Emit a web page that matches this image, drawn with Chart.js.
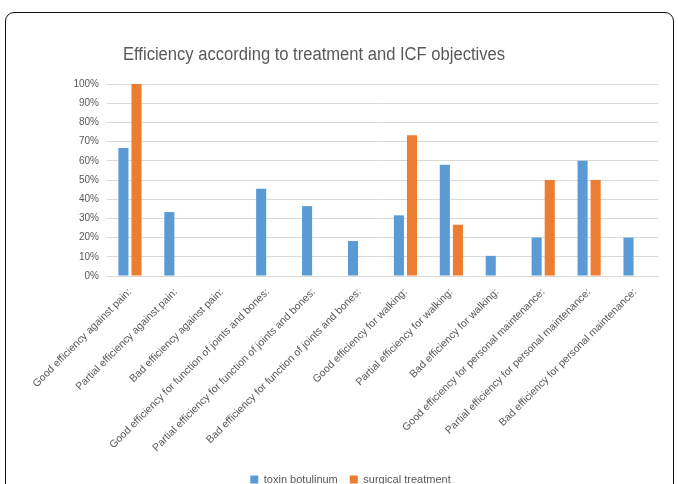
<!DOCTYPE html>
<html>
<head>
<meta charset="utf-8">
<script src="https://cdn.jsdelivr.net/npm/chart.js@4"></script>
<style>
  body { margin: 0; background: #fff; }
  #wrap { position: relative; width: 678px; height: 484px; overflow: hidden; }
  #frame {
    position: absolute; left: 5px; top: 12px; width: 669px; height: 490px;
    border: 1.5px solid #111; border-radius: 9px; box-sizing: border-box;
  }
  #chart { position: absolute; left: 0; top: 0; }
</style>
</head>
<body>
<div id="wrap">
  <div id="frame"></div>
  <canvas id="chart" width="678" height="495"></canvas>
</div>
<script>
// Categories (ICF objectives)
const categories = [
  'Good efficiency against pain:',
  'Partial efficiency against pain:',
  'Bad efficiency against pain:',
  'Good efficiency for function of joints and bones:',
  'Partial efficiency for function of joints and bones:',
  'Bad efficiency for function of joints and bones:',
  'Good efficiency for walking:',
  'Partial efficiency for walking:',
  'Bad efficiency for walking:',
  'Good efficiency for personal maintenance:',
  'Partial efficiency for personal maintenance:',
  'Bad efficiency for personal maintenance:'
];

// Series values (percent)
const toxinValues = [66.7, 33.3, 0, 45.5, 36.4, 18.2, 31.6, 57.9, 10.5, 20, 60, 20];
const surgicalValues = [100, 0, 0, 0, 0, 0, 73.3, 26.7, 0, 50, 50, 0];

// Y tick values
const yTicks = [0, 10, 20, 30, 40, 50, 60, 70, 80, 90, 100];

const chartTitle = 'Efficiency according to treatment and ICF objectives';
const textGray = '#595959';

// Title drawn at a fixed spot, squeezed to the original's width
const titlePlugin = {
  id: 'fixedTitle',
  afterDraw(chart) {
    const ctx = chart.ctx;
    ctx.save();
    ctx.font = '18px "Liberation Sans", sans-serif';
    ctx.fillStyle = textGray;
    ctx.textBaseline = 'middle';
    const w = ctx.measureText(chartTitle).width;
    const sx = 382 / w;
    ctx.translate(123, 55);
    ctx.scale(sx, 1);
    ctx.fillText(chartTitle, 0, 0);
    ctx.restore();
  }
};

document.addEventListener('DOMContentLoaded', function () {
  const ctx = document.getElementById('chart').getContext('2d');
  new Chart(ctx, {
    type: 'bar',
    data: {
      labels: categories,
      datasets: [{
        label: 'toxin botulinum',
        data: toxinValues,
        backgroundColor: '#5B9BD5'
      }, {
        label: 'surgical treatment',
        data: surgicalValues,
        backgroundColor: '#ED7D31'
      }]
    },
    options: {
      responsive: false,
      animation: false,
      categoryPercentage: 0.57,
      barPercentage: 0.77,
      layout: {
        padding: { top: 84, left: 43, right: 20, bottom: 0 }
      },
      plugins: {
        legend: {
          position: 'bottom',
          labels: {
            boxWidth: 8,
            boxHeight: 8,
            padding: 12,
            color: textGray,
            font: { size: 11, family: '"Liberation Sans", sans-serif' }
          }
        },
        title: { display: false },
        tooltip: { enabled: false }
      },
      scales: {
        x: {
          grid: { display: false },
          border: { color: '#d9d9d9' },
          ticks: {
            minRotation: 45,
            maxRotation: 45,
            autoSkip: false,
            padding: 2,
            color: textGray,
            font: { size: 10.5, family: '"Liberation Sans", sans-serif' }
          },
          afterFit: function (scale) {
            scale.height = 186;
          }
        },
        y: {
          min: 0,
          max: 100,
          afterBuildTicks: function (scale) {
            scale.ticks = yTicks.map(v => ({ value: v }));
          },
          grid: { color: '#d9d9d9', drawTicks: false },
          border: { display: false },
          ticks: {
            padding: 8,
            color: textGray,
            font: { size: 10, family: '"Liberation Sans", sans-serif' },
            callback: v => v + '%'
          },
          afterFit: function (scale) {
            scale.width = 64;
          }
        }
      }
    },
    plugins: [titlePlugin]
  });
});
</script>
</body>
</html>
